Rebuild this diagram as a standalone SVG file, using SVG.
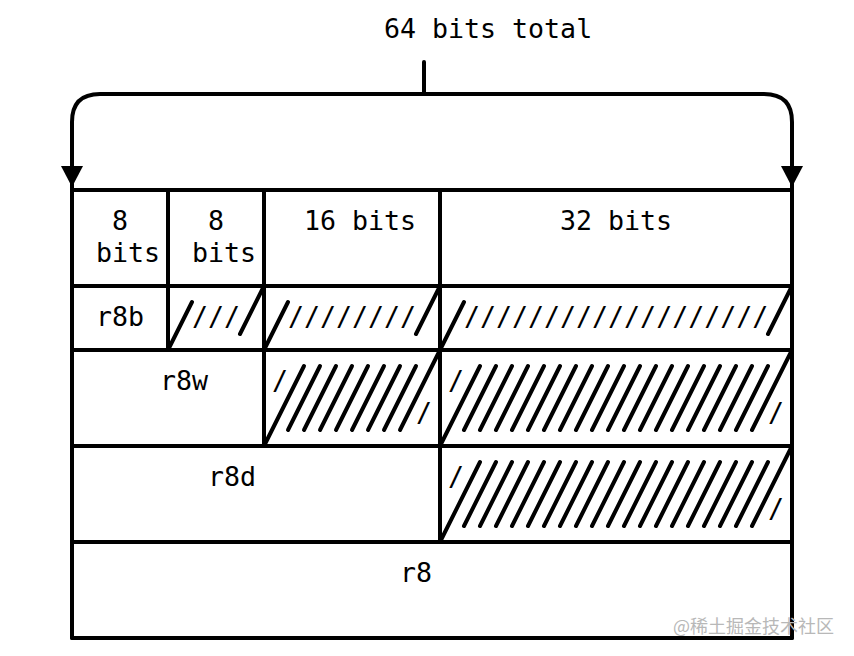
<svg xmlns="http://www.w3.org/2000/svg" width="854" height="656" viewBox="0 0 854 656">
<style>
.ln{stroke:#000;stroke-width:4;fill:none;stroke-linecap:round;stroke-linejoin:round}
.hl{stroke:#000;stroke-width:4;fill:none;stroke-linecap:round}
.t{font-family:"DejaVu Sans Mono","Liberation Mono",monospace;font-size:26.6px;fill:#000}
.wm{font-family:"Noto Sans CJK SC","DejaVu Sans",sans-serif;font-size:18px;fill:#b8b8b8}
</style>
<rect width="854" height="656" fill="#fff"/>

<g id="title">
<text class="t" x="384" y="38">64 bits total</text>
</g>

<g id="connectors">
<path class="ln" d="M424,62 V94"/>
<path class="ln" d="M72,190 V122 Q72,94 100,94 H764 Q792,94 792,122 V190"/>
<path d="M61,166 L83,166 L72,187 Z" fill="#000"/>
<path d="M781,166 L803,166 L792,187 Z" fill="#000"/>
</g>

<g id="table-frame">
<path class="hl" d="M72,190 H792 M72,286 H792 M72,350 H792 M72,446 H792 M72,542 H792 M72,638 H792"/>
<path class="hl" d="M72,190 V638 M792,190 V638 M168,190 V350 M264,190 V446 M440,190 V542"/>
</g>

<g id="header-8bits-a"><text class="t" x="112" y="230">8</text><text class="t" x="96" y="262">bits</text></g>
<g id="header-8bits-b"><text class="t" x="208" y="230">8</text><text class="t" x="192" y="262">bits</text></g>
<g id="header-16bits"><text class="t" x="304" y="230">16 bits</text></g>
<g id="header-32bits"><text class="t" x="560" y="230">32 bits</text></g>

<g id="r8b">
<text class="t" x="96" y="326">r8b</text>
<path class="ln" d="M168,350 L192,302 M240,334 L264,286 M264,350 L288,302 M416,334 L440,286 M440,350 L464,302 M768,334 L792,286"/>
<text class="t" x="192" y="326">///</text>
<text class="t" x="288" y="326">////////</text>
<text class="t" x="464" y="326">///////////////////</text>
</g>

<g id="r8w">
<text class="t" x="160" y="390">r8w</text>
<text class="t" x="272" y="390">/</text>
<text class="t" x="416" y="422">/</text>
<text class="t" x="448" y="390">/</text>
<text class="t" x="768" y="422">/</text>
<path class="ln" d="M264,446 L304,366 M288,430 L320,366 M304,430 L336,366 M320,430 L352,366 M336,430 L368,366 M352,430 L384,366 M368,430 L400,366 M384,430 L416,366 M400,430 L440,350"/>
<path class="ln" d="M440,446 L480,366 M464,430 L496,366 M480,430 L512,366 M496,430 L528,366 M512,430 L544,366 M528,430 L560,366 M544,430 L576,366 M560,430 L592,366 M576,430 L608,366 M592,430 L624,366 M608,430 L640,366 M624,430 L656,366 M640,430 L672,366 M656,430 L688,366 M672,430 L704,366 M688,430 L720,366 M704,430 L736,366 M720,430 L752,366 M736,430 L768,366 M752,430 L792,350"/>
</g>

<g id="r8d">
<text class="t" x="208" y="486">r8d</text>
<text class="t" x="448" y="486">/</text>
<text class="t" x="768" y="518">/</text>
<path class="ln" d="M440,542 L480,462 M464,526 L496,462 M480,526 L512,462 M496,526 L528,462 M512,526 L544,462 M528,526 L560,462 M544,526 L576,462 M560,526 L592,462 M576,526 L608,462 M592,526 L624,462 M608,526 L640,462 M624,526 L656,462 M640,526 L672,462 M656,526 L688,462 M672,526 L704,462 M688,526 L720,462 M704,526 L736,462 M720,526 L752,462 M736,526 L768,462 M752,526 L792,446"/>
</g>

<g id="r8">
<text class="t" x="400" y="582">r8</text>
</g>

<text class="wm" x="673" y="633">@稀土掘金技术社区</text>
</svg>
